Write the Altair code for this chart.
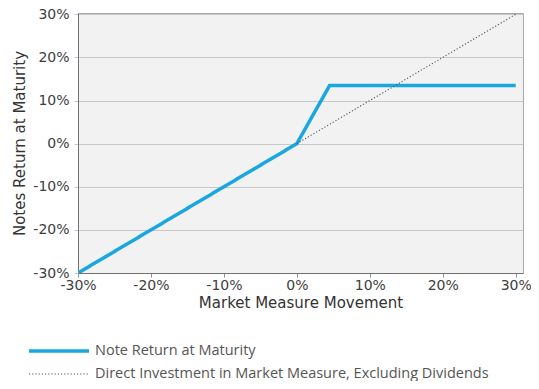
import altair as alt
import pandas as pd

series_names = ["Note Return at Maturity", "Direct Investment in Market Measure, Excluding Dividends"]
note_x = [-30, 0, 4.5, 30]
note_y = [-30, 0, 13.5, 13.5]
direct_x = [0, 30]
direct_y = [0, 30]
tick_values = [-30, -20, -10, 0, 10, 20, 30]

rows = []
for i, (x, y) in enumerate(zip(note_x, note_y)):
    rows.append({"series": series_names[0], "x": x, "y": y, "order": i})
for i, (x, y) in enumerate(zip(direct_x, direct_y)):
    rows.append({"series": series_names[1], "x": x, "y": y, "order": i})
df = pd.DataFrame(rows)

pct = "datum.value + '%'"

leg = dict(title=None, orient="none", legendX=-31, legendY=326,
           symbolType="M-3,0H3", symbolSize=400,
           labelFont="Open Sans", labelFontSize=14.5, labelColor="#555555",
           rowPadding=5, labelOffset=24, labelLimit=600)

chart = alt.Chart(df).mark_line(clip=True).encode(
    x=alt.X("x:Q", scale=alt.Scale(domain=[-30, 31], nice=False, zero=False),
            axis=alt.Axis(values=tick_values, labelExpr=pct, grid=False, title="Market Measure Movement",
                          tickSize=4, tickColor="#909090", domainColor="#707070", labelFlush=False,
                          labelPadding=1, titlePadding=3)),
    y=alt.Y("y:Q", scale=alt.Scale(domain=[-30, 30.3], nice=False, zero=False),
            axis=alt.Axis(values=tick_values, labelExpr=pct, grid=True, gridColor="#c8c8c8",
                          title="Notes Return at Maturity", tickSize=4, tickColor="#c8c8c8",
                          labelFlush=False, domainColor="#707070", labelPadding=5, titlePadding=5)),
    color=alt.Color("series:N", scale=alt.Scale(domain=series_names, range=["#1aa7e0", "#555555"]),
                    legend=alt.Legend(**leg)),
    strokeDash=alt.StrokeDash("series:N", scale=alt.Scale(domain=series_names, range=[[1, 0], [1.2, 2]]),
                              legend=alt.Legend(**leg)),
    strokeWidth=alt.StrokeWidth("series:N", scale=alt.Scale(domain=series_names, range=[3.5, 1.1]),
                                legend=alt.Legend(**leg)),
    order="order:Q",
).properties(
    width=445, height=260,
    background="white",
    autosize=alt.AutoSizeParams(type="none"),
    padding={"left": 70, "top": 5, "right": 8, "bottom": 108},
).configure_view(
    fill="#f2f2f2", stroke="#a8a8a8", strokeWidth=1
).configure_axis(
    labelFont="DejaVu Sans", labelFontSize=14, labelColor="#404040",
    titleFont="DejaVu Sans", titleFontSize=15, titleColor="#333333", titleFontWeight="normal"
)

chart.save("out.html", embed_options={"renderer": "svg", "actions": False})
